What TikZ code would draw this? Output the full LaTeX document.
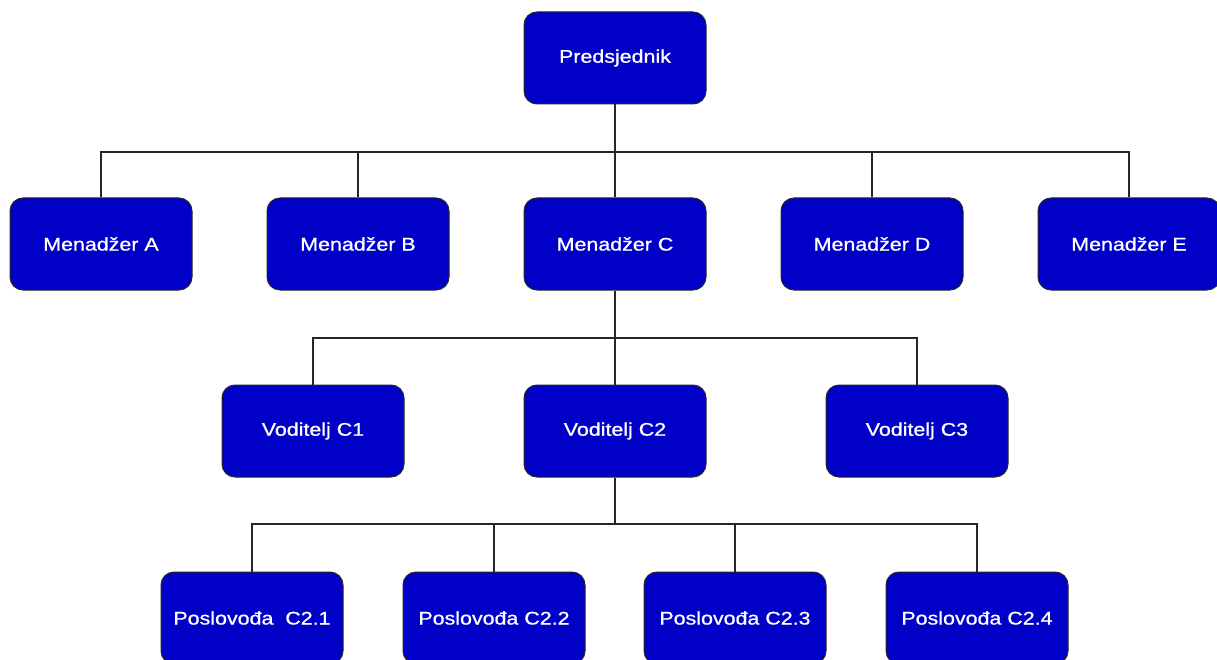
\documentclass[tikz,border=0pt]{standalone}
\usepackage{fontspec}
\setmainfont{Liberation Sans}[FakeStretch=1.17,FakeBold=0.9]
\begin{document}
\begin{tikzpicture}[x=1pt,y=-1pt,
  box/.style={draw=black!85, line width=1pt, fill=boxblue, rounded corners=13pt,
    minimum width=182pt, minimum height=92pt, text=white, inner sep=0pt,
    font=\fontsize{18.3}{21}\selectfont},
  conn/.style={draw=black!85, line width=1.1pt}]
\definecolor{boxblue}{RGB}{0,0,198}
\useasboundingbox (0,0) rectangle (1217,660);
\clip (0,0) rectangle (1217,660);
\fill[white] (0,0) rectangle (1217,660);
% nodes
\node[box] (P) at (615,58) {Predsjednik};
\node[box] (MA) at (101,244) {Menadžer A};
\node[box] (MB) at (358,244) {Menadžer B};
\node[box] (MC) at (615,244) {Menadžer C};
\node[box] (MD) at (872,244) {Menadžer D};
\node[box] (ME) at (1129,244) {Menadžer E};
\node[box] (V1) at (313,431) {Voditelj C1};
\node[box] (V2) at (615,431) {Voditelj C2};
\node[box] (V3) at (917,431) {Voditelj C3};
\node[box] (S1) at (252,618) {Poslovođa\ \ C2.1};
\node[box] (S2) at (494,618) {Poslovođa C2.2};
\node[box] (S3) at (735,618) {Poslovođa C2.3};
\node[box] (S4) at (977,618) {Poslovođa C2.4};
% bus coordinates
\coordinate (b1) at (615,152);
\coordinate (b2) at (615,338);
\coordinate (b3) at (615,524);
% connectors
\foreach \c in {MA,MB,MC,MD,ME}
  \draw[conn] (P.south) -- (b1) -| (\c.north);
\foreach \c in {V1,V2,V3}
  \draw[conn] (MC.south) -- (b2) -| (\c.north);
\foreach \c in {S1,S2,S3,S4}
  \draw[conn] (V2.south) -- (b3) -| (\c.north);
\end{tikzpicture}
\end{document}
